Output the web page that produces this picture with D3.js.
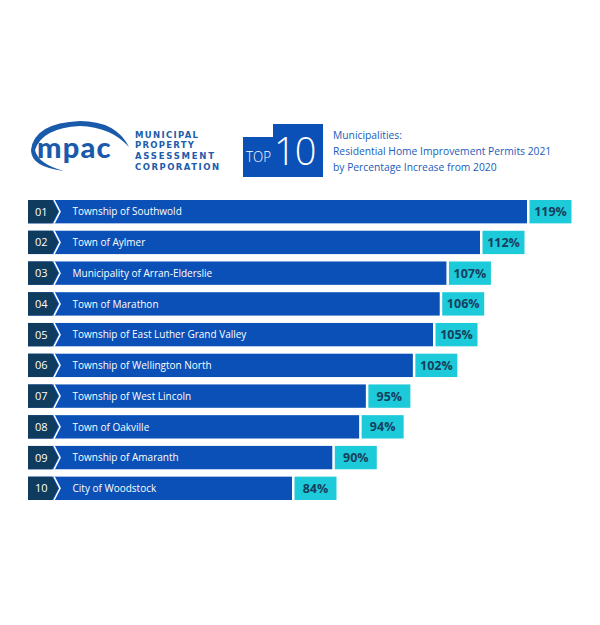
<!DOCTYPE html>
<html>
<head>
<meta charset="utf-8">
<script src="https://cdn.jsdelivr.net/npm/d3@7"></script>
<style>
  body { margin: 0; background: #fff; }
  text { font-family: "Open Sans", sans-serif; }
</style>
</head>
<body>
<div id="chart"></div>
<script>
var ranks = ["01", "02", "03", "04", "05", "06", "07", "08", "09", "10"];
var names = [
  "Township of Southwold",
  "Town of Aylmer",
  "Municipality of Arran-Elderslie",
  "Town of Marathon",
  "Township of East Luther Grand Valley",
  "Township of Wellington North",
  "Township of West Lincoln",
  "Town of Oakville",
  "Township of Amaranth",
  "City of Woodstock"
];
var values = [119, 112, 107, 106, 105, 102, 95, 94, 90, 84];
var titleLines = [
  "Municipalities:",
  "Residential Home Improvement Permits 2021",
  "by Percentage Increase from 2020"
];
var orgLines = ["MUNICIPAL", "PROPERTY", "ASSESSMENT", "CORPORATION"];

var width = 600, height = 625;
var barLeft = 28;
var blue = "#0a50b6", navy = "#0e3b5e", cyan = "#1dcad9";

var data = values.map(function(v, i){
  return {rank: ranks[i], name: names[i], value: v};
});

var svg = d3.select("#chart").append("svg")
      .attr("width", width)
      .attr("height", height);

// --- header: mpac logo ---
var logo = svg.append("g");
logo.append("path")
  .attr("d", "M31,150 Q34,123 80,121 Q116,121 129,147 Q111,127 80,126 Q42,128 35,150 Z")
  .attr("fill", "#1a5aab");
logo.append("path")
  .attr("d", "M31,150 Q31,167 64,171 Q38,164 35,150 Z")
  .attr("fill", "#1a5aab");
logo.append("text")
  .attr("x", 37).attr("y", 158)
  .attr("fill", "#1a5aab")
  .style("font-family", "Lato, sans-serif")
  .style("font-weight", 900)
  .style("font-size", "29px")
  .style("letter-spacing", "1.2px")
  .text("mpac");

logo.selectAll(".org")
  .data(orgLines)
  .enter().append("text")
  .attr("class", "org")
  .attr("x", 135)
  .attr("y", function(d, i){ return 137.5 + i * 10.7; })
  .attr("fill", "#1d5cab")
  .attr("textLength", function(d){ return {MUNICIPAL: 63, PROPERTY: 59, ASSESSMENT: 79, CORPORATION: 84}[d]; })
  .attr("lengthAdjust", "spacing")
  .style("font-family", "DejaVu Sans, sans-serif")
  .style("font-weight", "bold")
  .style("font-size", "8.5px")
  .text(function(d){ return d; });

// --- header: TOP 10 badge ---
var badge = svg.append("g");
badge.append("path")
  .attr("d", "M243,137 H273 V124 H323 V177 H243 Z")
  .attr("fill", "#0a50b6");
badge.append("text")
  .attr("x", 246).attr("y", 162)
  .attr("fill", "#fff")
  .attr("textLength", 25)
  .attr("lengthAdjust", "spacingAndGlyphs")
  .style("font-size", "15px")
  .style("font-weight", 300)
  .text("TOP");
badge.append("text")
  .attr("x", 274).attr("y", 165)
  .attr("fill", "#fff")
  .style("font-size", "38px")
  .style("font-weight", 300)
  .style("letter-spacing", "-1px")
  .text("10");

svg.selectAll(".title")
  .data(titleLines)
  .enter().append("text")
  .attr("class", "title")
  .attr("x", 333)
  .attr("y", function(d, i){ return 139 + i * 16; })
  .attr("fill", "#1a5cb8")
  .style("font-size", "10.3px")
  .text(function(d){ return d; });

// --- bars ---
var x = d3.scaleLinear()
      .domain([84, 119])
      .range([292, 527]);

var y = d3.scaleBand()
      .domain(ranks)
      .range([200, 500])
      .paddingInner(0.24)
      .paddingOuter(0);

var bh = y.bandwidth();

var rows = svg.selectAll(".row")
      .data(data)
      .enter().append("g")
      .attr("class", "row")
      .attr("transform", function(d){ return "translate(0," + y(d.rank) + ")"; });

rows.append("rect")
  .attr("x", barLeft)
  .attr("y", 0)
  .attr("width", function(d){ return x(d.value) - barLeft; })
  .attr("height", bh)
  .attr("fill", blue);

rows.append("path")
  .attr("d", "M" + barLeft + ",0 H52 L58," + (bh / 2) + " L52," + bh + " H" + barLeft + " Z")
  .attr("fill", navy);

rows.append("path")
  .attr("d", "M54,0 L60," + (bh / 2) + " L54," + bh)
  .attr("fill", "none")
  .attr("stroke", "#fff")
  .attr("stroke-width", 1.6);

rows.append("text")
  .attr("x", 35)
  .attr("y", bh / 2 + 4)
  .attr("fill", "#fff")
  .style("font-size", "11px")
  .text(function(d){ return d.rank; });

rows.append("text")
  .attr("x", 72.5)
  .attr("y", bh / 2 + 3.8)
  .attr("fill", "#fff")
  .style("font-size", "10px")
  .text(function(d){ return d.name; });

rows.append("rect")
  .attr("x", function(d){ return x(d.value) + 2.5; })
  .attr("y", 0)
  .attr("width", 42)
  .attr("height", bh)
  .attr("fill", cyan);

rows.append("text")
  .attr("x", function(d){ return x(d.value) + 2.5 + 21; })
  .attr("y", bh / 2 + 4.5)
  .attr("text-anchor", "middle")
  .attr("fill", "#153f5f")
  .style("font-size", "12.5px")
  .style("font-weight", "bold")
  .text(function(d){ return d.value + "%"; });
</script>
</body>
</html>
